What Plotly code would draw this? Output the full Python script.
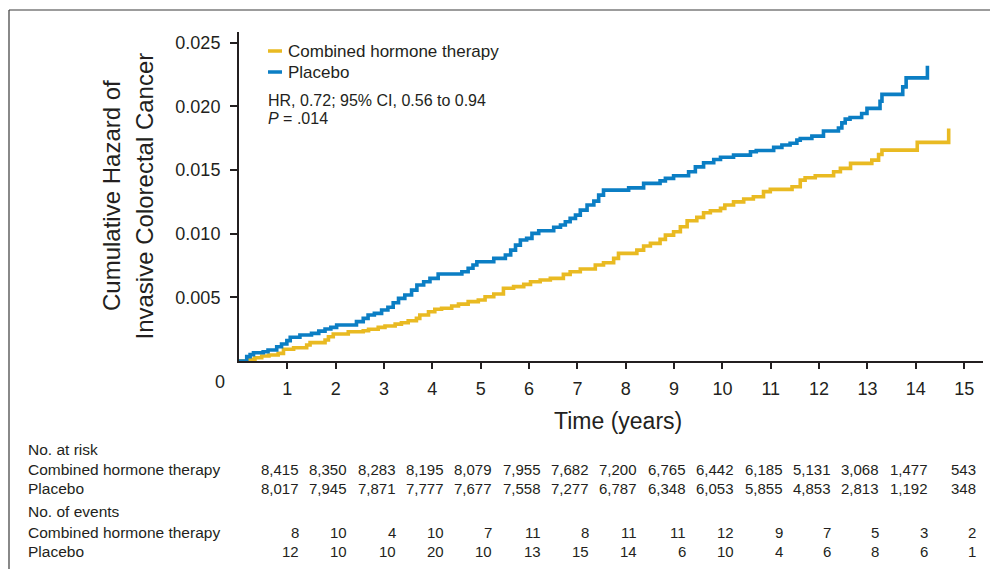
import plotly.graph_objects as go

# ---------------- data ----------------
placebo_t = [0, 0.16, 0.23, 0.30, 0.50, 0.60, 0.78, 0.88, 0.99, 1.06, 1.26, 1.50, 1.65, 1.78, 1.90,
             2.02, 2.43, 2.57, 2.67, 2.80, 2.95, 3.08, 3.19, 3.30, 3.43, 3.57, 3.68, 3.82, 3.95, 4.12,
             4.61, 4.74, 4.84, 4.92, 5.27, 5.51, 5.62, 5.72, 5.82, 5.95, 6.06, 6.20, 6.51, 6.65, 6.75,
             6.85, 6.96, 7.06, 7.20, 7.34, 7.44, 7.54, 8.06, 8.37, 8.71, 8.82, 8.99, 9.30, 9.44, 9.61,
             9.82, 9.96, 10.23, 10.58, 10.70, 11.06, 11.23, 11.40, 11.54, 11.61, 11.85, 12.09, 12.40,
             12.47, 12.54, 12.64, 12.88, 12.99, 13.26, 13.30, 13.73, 13.80, 14.24]
placebo_h = [0, 0.00034, 0.00050, 0.00065, 0.00073, 0.00086, 0.00112, 0.00133, 0.00160, 0.00186,
             0.00204, 0.00217, 0.00235, 0.00251, 0.00264, 0.00283, 0.00309, 0.00335, 0.00361, 0.00374,
             0.00400, 0.00422, 0.00458, 0.00492, 0.00518, 0.00557, 0.00597, 0.00623, 0.00649, 0.00683,
             0.00701, 0.00728, 0.00754, 0.00780, 0.00806, 0.00832, 0.00871, 0.00910, 0.00950, 0.00963,
             0.01002, 0.01023, 0.01050, 0.01068, 0.01094, 0.01120, 0.01146, 0.01185, 0.01225, 0.01256,
             0.01303, 0.01342, 0.01360, 0.01395, 0.01415, 0.01434, 0.01455, 0.01486, 0.01525, 0.01557,
             0.01583, 0.01600, 0.01617, 0.01643, 0.01653, 0.01678, 0.01696, 0.01710, 0.01735, 0.01748,
             0.01766, 0.01806, 0.01830, 0.01870, 0.01900, 0.01913, 0.01944, 0.01984, 0.02040, 0.02094,
             0.02153, 0.02224, 0.02318]

cht_t = [0, 0.20, 0.33, 0.47, 0.62, 0.81, 0.92, 1.13, 1.40, 1.47, 1.78, 1.85, 1.95, 2.26, 2.57, 2.68,
         2.88, 3.02, 3.23, 3.36, 3.50, 3.67, 3.74, 3.92, 4.05, 4.19, 4.40, 4.54, 4.74, 4.95, 5.09, 5.27,
         5.47, 5.68, 5.89, 6.03, 6.23, 6.44, 6.71, 6.85, 7.06, 7.37, 7.54, 7.75, 7.85, 8.23, 8.37, 8.51,
         8.71, 8.82, 8.99, 9.13, 9.27, 9.47, 9.61, 9.75, 9.96, 10.05, 10.23, 10.44, 10.64, 10.85, 10.99,
         11.44, 11.61, 11.71, 11.92, 12.30, 12.44, 12.65, 13.09, 13.23, 13.30, 14.03, 14.68]
cht_h = [0, 0.00013, 0.00026, 0.00039, 0.00047, 0.00060, 0.00092, 0.00104, 0.00126, 0.00144, 0.00165,
         0.00191, 0.00212, 0.00230, 0.00238, 0.00249, 0.00264, 0.00275, 0.00290, 0.00300, 0.00316,
         0.00335, 0.00361, 0.00387, 0.00406, 0.00414, 0.00432, 0.00447, 0.00466, 0.00479, 0.00505,
         0.00526, 0.00571, 0.00584, 0.00602, 0.00623, 0.00636, 0.00649, 0.00680, 0.00701, 0.00722,
         0.00754, 0.00772, 0.00806, 0.00845, 0.00871, 0.00903, 0.00924, 0.00955, 0.00989, 0.01015,
         0.01054, 0.01101, 0.01128, 0.01164, 0.01180, 0.01199, 0.01225, 0.01250, 0.01272, 0.01290,
         0.01330, 0.01348, 0.01368, 0.01421, 0.01439, 0.01455, 0.01486, 0.01513, 0.01552, 0.01578,
         0.01622, 0.01656, 0.01717, 0.01827]

table_times = list(range(15))
risk_cht = ["8,415", "8,350", "8,283", "8,195", "8,079", "7,955", "7,682", "7,200", "6,765", "6,442",
            "6,185", "5,131", "3,068", "1,477", "543"]
risk_placebo = ["8,017", "7,945", "7,871", "7,777", "7,677", "7,558", "7,277", "6,787", "6,348", "6,053",
                "5,855", "4,853", "2,813", "1,192", "348"]
events_cht = [8, 10, 4, 10, 7, 11, 8, 11, 11, 12, 9, 7, 5, 3, 2]
events_placebo = [12, 10, 10, 20, 10, 13, 15, 14, 6, 10, 4, 6, 8, 6, 1]

x_tickvals = list(range(1, 16))
y_tickvals = [0.005, 0.010, 0.015, 0.020, 0.025]
y_ticktext = ["0.005", "0.010", "0.015", "0.020", "0.025"]

series_names = ["Combined hormone therapy", "Placebo"]
hr_text = "HR, 0.72; 95% CI, 0.56 to 0.94"
p_text = "<i>P</i> = .014"

# ---------------- styling ----------------
BLUE = "#0b7ec4"
YELLOW = "#e9ba22"
INK = "#231f20"
FONT = "Liberation Sans, Arial, Helvetica, sans-serif"

W, H = 990, 569
L, R, T, B = 239, 7, 32, 208
PW, PH = W - L - R, H - T - B


def pxx(px):
    return (px - L) / PW


def pxy(py):
    return (H - B - py) / PH


fig = go.Figure()
fig.add_trace(go.Scatter(x=cht_t, y=cht_h, mode="lines", line=dict(color=YELLOW, width=3.6, shape="hv"),
                         name=series_names[0], showlegend=False))
fig.add_trace(go.Scatter(x=placebo_t, y=placebo_h, mode="lines", line=dict(color=BLUE, width=3.6, shape="hv"),
                         name=series_names[1], showlegend=False))

ann = []
# legend
for i, (nm, col) in enumerate(zip(series_names, [YELLOW, BLUE])):
    yy = 51 + i * 21
    fig.add_shape(type="line", xref="paper", yref="paper", x0=pxx(268), x1=pxx(282), y0=pxy(yy), y1=pxy(yy),
                  line=dict(color=col, width=3.5))
    ann.append(dict(text=nm, x=pxx(286), y=pxy(yy), xanchor="left", yanchor="middle",
                    font=dict(size=17, color=INK)))
ann.append(dict(text=hr_text, x=pxx(266), y=pxy(100), xanchor="left", yanchor="middle",
                font=dict(size=16, color=INK)))
ann.append(dict(text=p_text, x=pxx(266), y=pxy(119), xanchor="left", yanchor="middle",
                font=dict(size=16, color=INK)))

# axis titles
ann.append(dict(text="Cumulative Hazard of", x=pxx(111), y=pxy(196), textangle=-90, xanchor="center",
                yanchor="middle", font=dict(size=24, color=INK)))
ann.append(dict(text="Invasive Colorectal Cancer", x=pxx(143.5), y=pxy(196), textangle=-90, xanchor="center",
                yanchor="middle", font=dict(size=24, color=INK)))
ann.append(dict(text="Time (years)", x=pxx(618), y=pxy(421), xanchor="center", yanchor="middle",
                font=dict(size=23, color=INK)))
ann.append(dict(text="0", x=pxx(220), y=pxy(382), xanchor="center", yanchor="middle",
                font=dict(size=18, color=INK)))

# risk table
labels = [("No. at risk", 450), (series_names[0], 469), (series_names[1], 488.5),
          ("No. of events", 511), (series_names[0], 532), (series_names[1], 551)]
for txt, yy in labels:
    ann.append(dict(text=txt, x=pxx(26), y=pxy(yy), xanchor="left", yanchor="middle",
                    font=dict(size=15.5, color=INK)))
rows = [(risk_cht, 469), (risk_placebo, 488.5), (events_cht, 532), (events_placebo, 551)]
for vals, yy in rows:
    for t, v in zip(table_times, vals):
        ann.append(dict(text=str(v), xref="x", x=t + 1.284, y=pxy(yy), xanchor="right", yanchor="middle",
                        font=dict(size=15, color=INK)))

for a in ann:
    a.setdefault("xref", "paper")
    a["yref"] = "paper"
    a["showarrow"] = False

# outer frame (top and left edges visible)
fig.add_shape(type="line", xref="paper", yref="paper", x0=pxx(9), x1=pxx(995), y0=pxy(10), y1=pxy(10),
              line=dict(color="#3a3a3a", width=1.2))
fig.add_shape(type="line", xref="paper", yref="paper", x0=pxx(9), x1=pxx(9), y0=pxy(10), y1=pxy(575),
              line=dict(color="#3a3a3a", width=1.2))

fig.update_layout(
    width=W, height=H, autosize=False,
    margin=dict(l=L, r=R, t=T, b=B, pad=0),
    paper_bgcolor="white", plot_bgcolor="white",
    font=dict(family=FONT, color=INK),
    annotations=ann,
    showlegend=False,
    xaxis=dict(range=[0, 15.39], tickvals=x_tickvals, ticks="outside", ticklen=6, tickwidth=1.5,
               tickcolor=INK, showline=True, linecolor=INK, linewidth=2, showgrid=False, zeroline=False,
               tickfont=dict(size=18, color=INK), ticklabelstandoff=4),
    yaxis=dict(range=[0, 0.02584], tickvals=y_tickvals, ticktext=y_ticktext, ticks="outside", ticklen=7,
               tickwidth=1.5, tickcolor=INK, showline=True, linecolor=INK, linewidth=2, showgrid=False,
               zeroline=False, tickfont=dict(size=18, color=INK), ticklabelstandoff=6),
)

fig.write_html("out.html")
